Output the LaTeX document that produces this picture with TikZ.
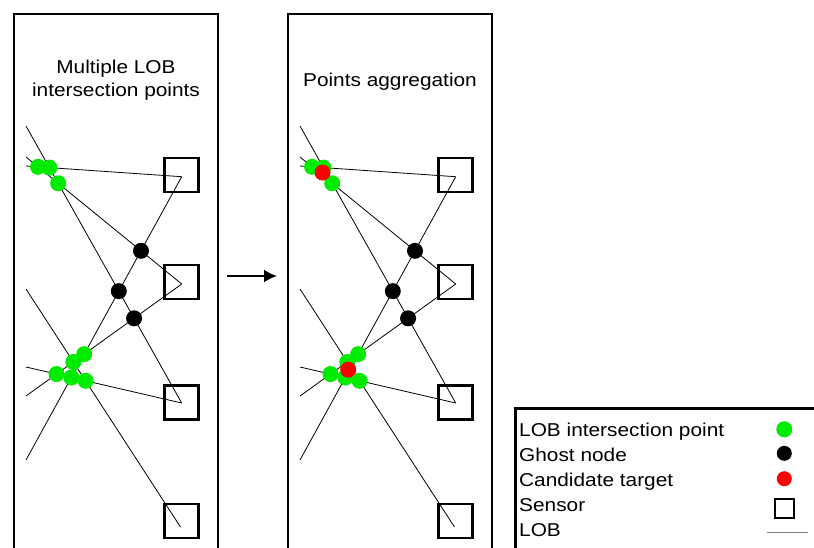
\documentclass[tikz,border=0pt]{standalone}
\usepackage{fontspec}
\setmainfont{Liberation Sans}[FakeStretch=1.12]
\usepackage{xcolor}
\usetikzlibrary{calc, arrows.meta}

\definecolor{lobgreen}{RGB}{0,235,0}
\definecolor{lobred}{RGB}{250,0,0}

\begin{document}
\begin{tikzpicture}[x=1pt, y=-1pt, >={Latex[length=13pt, width=13pt]},
    panel/.style={line width=2.6pt},
    lob/.style={line width=0.8pt},
    sensor/.style={draw, line width=2.6pt, minimum size=34pt, inner sep=0pt},
    dot/.style={circle, fill=#1, minimum size=16pt, inner sep=0pt},
    title/.style={font=\fontsize{18.6}{23}\selectfont, align=center, inner sep=0pt},
    keytext/.style={font=\fontsize{18.6}{23}\selectfont, anchor=base west, inner sep=0pt}]
    \useasboundingbox (0,0) rectangle (814,547);
    \clip (0,0) rectangle (814,547);

    % 1. Hai khung: giao diem LOB va gom diem
    \foreach \dx/\pn in {0/a, 274/b} {
    \begin{scope}[xshift=\dx pt]
        \draw[panel] (14,14) rectangle (218,570);
        % cam bien va dinh cua LOB
        \foreach \s/\yc/\xa/\ya in {1/175/181.7/176.7, 2/282/181.7/284, 3/402.5/181.7/403, 4/521/180.5/527} {
            \node[sensor] (s\s\pn) at (181.5,\yc) {};
            \coordinate (p\s\pn) at (\xa,\ya);
        }
        % cac duong LOB
        \foreach \i/\s/\y in {1/1/166, 2/1/460, 3/2/157, 4/2/396, 5/3/126, 6/3/367, 7/4/289} {
            \coordinate (b\i\pn) at (p\s\pn);
            \coordinate (e\i\pn) at (26,\y);
            \draw[lob] (b\i\pn) -- (e\i\pn);
        }
        % nut ma
        \foreach \i/\u/\v in {1/2/3, 2/2/5, 3/4/5}
            \node[dot=black] (h\i\pn) at (intersection cs: first line={(b\u\pn)--(e\u\pn)}, second line={(b\v\pn)--(e\v\pn)}) {};
        % giao diem LOB
        \foreach \i/\u/\v in {1/1/3, 2/1/5, 3/3/5, 4/2/4, 5/2/6, 6/4/6, 7/4/7, 8/6/7}
            \node[dot=lobgreen] (g\i\pn) at (intersection cs: first line={(b\u\pn)--(e\u\pn)}, second line={(b\v\pn)--(e\v\pn)}) {};
    \end{scope}
    }

    % 2. Muc tieu ung vien (trong tam cac cum)
    \node[dot=lobred] (c1) at ($1/3*(g1b)+1/3*(g2b)+1/3*(g3b)$) {};
    \node[dot=lobred] (c2) at ($0.2*(g4b)+0.2*(g5b)+0.2*(g6b)+0.2*(g7b)+0.2*(g8b)$) {};

    % 3. Tieu de va mui ten
    \node[title] (ta) at (116,80.5) {Multiple LOB\\intersection points};
    \node[title, anchor=base] (tb) at (390,86) {Points aggregation};
    \coordinate (from) at (227,276);
    \coordinate (to) at (277,276);
    \draw[->, line width=2pt] (from) -- (to);

    % 4. Chu thich
    \draw[panel] (515.3,408.7) rectangle (840,570);
    \foreach \i/\txt in {0/LOB intersection point, 1/Ghost node, 2/Candidate target, 3/Sensor, 4/LOB}
        \node[keytext] (k\i) at (519,436+25*\i) {\txt};
    \node[dot=lobgreen] (m0) at (784.3,429.3) {};
    \node[dot=black, minimum size=15pt] (m1) at (784.3,453.3) {};
    \node[dot=lobred, minimum size=15pt] (m2) at (784.3,478.7) {};
    \node[sensor, minimum size=19pt, line width=2.2pt] (m3) at (784.5,508.5) {};
    \draw[gray, line width=0.9pt] (766.7,532.3) -- (808.3,532.3);
\end{tikzpicture}
\end{document}
